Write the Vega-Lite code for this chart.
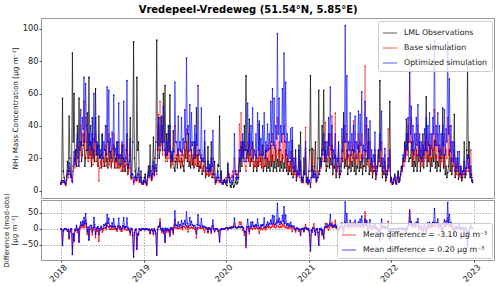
{
"$schema": "https://vega.github.io/schema/vega-lite/v6.json",
"padding": {"left": 1, "top": 4, "right": 0, "bottom": 0},
"title": {"text": "Vredepeel-Vredeweg (51.54°N, 5.85°E)", "fontSize": 10, "font": "DejaVu Sans", "fontWeight": "bold", "color": "#000", "offset": 3, "anchor": "middle"},
"config": {
  "font": "DejaVu Sans",
  "view": {"stroke": "#999", "strokeWidth": 1},
  "axis": {"labelFont": "DejaVu Sans", "labelFontSize": 8.2, "labelColor": "#222", "labelOverlap": false, "labelFlush": false, "titleFont": "DejaVu Sans", "titleFontSize": 7.3, "titleFontWeight": "normal", "titleColor": "#222", "tickColor": "#444", "tickSize": 2, "labelPadding": 1, "titlePadding": 3, "domain": false, "grid": false},
  "legend": {"labelFont": "DejaVu Sans", "labelFontSize": 7.8, "labelColor": "#222", "symbolType": "stroke", "symbolSize": 200, "symbolStrokeWidth": 1, "fillColor": "rgba(255,255,255,0.8)", "strokeColor": "#ccc", "cornerRadius": 2, "padding": 4, "rowPadding": 3, "labelOffset": 6, "labelLimit": 300, "title": null}
},
"spacing": 2,
"bounds": "flush",
"resolve": {"scale": {"color": "independent"}},
"datasets": {"d": [
{"t":2018.00,"o":5,"b":4,"p":4,"db":-1,"dp":-1},
{"t":2018.02,"o":57,"b":6,"p":6,"db":-51,"dp":-51},
{"t":2018.04,"o":8,"b":5,"p":6,"db":-3,"dp":-2},
{"t":2018.06,"o":4,"b":3,"p":4,"db":-1,"dp":0},
{"t":2018.08,"o":18,"b":10,"p":12,"db":-8,"dp":-6},
{"t":2018.10,"o":46,"b":14,"p":17,"db":-32,"dp":-29},
{"t":2018.12,"o":10,"b":8,"p":9,"db":-2,"dp":-1},
{"t":2018.14,"o":85,"b":6,"p":5,"db":-79,"dp":-80},
{"t":2018.16,"o":60,"b":20,"p":24,"db":-40,"dp":-36},
{"t":2018.18,"o":25,"b":18,"p":22,"db":-7,"dp":-3},
{"t":2018.20,"o":40,"b":28,"p":35,"db":-12,"dp":-5},
{"t":2018.22,"o":57,"b":18,"p":15,"db":-39,"dp":-42},
{"t":2018.24,"o":30,"b":40,"p":50,"db":10,"dp":20},
{"t":2018.26,"o":22,"b":35,"p":45,"db":13,"dp":23},
{"t":2018.28,"o":35,"b":55,"p":70,"db":20,"dp":35},
{"t":2018.30,"o":20,"b":45,"p":66,"db":25,"dp":46},
{"t":2018.32,"o":48,"b":30,"p":38,"db":-18,"dp":-10},
{"t":2018.34,"o":70,"b":35,"p":35,"db":-35,"dp":-35},
{"t":2018.36,"o":30,"b":28,"p":40,"db":-2,"dp":10},
{"t":2018.38,"o":45,"b":26,"p":35,"db":-19,"dp":-10},
{"t":2018.40,"o":25,"b":32,"p":60,"db":7,"dp":35},
{"t":2018.42,"o":63,"b":35,"p":45,"db":-28,"dp":-18},
{"t":2018.44,"o":28,"b":20,"p":30,"db":-8,"dp":2},
{"t":2018.46,"o":46,"b":6,"p":28,"db":-40,"dp":-18},
{"t":2018.48,"o":22,"b":18,"p":25,"db":-4,"dp":3},
{"t":2018.50,"o":35,"b":24,"p":34,"db":-11,"dp":-1},
{"t":2018.52,"o":18,"b":20,"p":30,"db":2,"dp":12},
{"t":2018.54,"o":25,"b":28,"p":40,"db":3,"dp":15},
{"t":2018.56,"o":20,"b":40,"p":64,"db":20,"dp":44},
{"t":2018.58,"o":30,"b":35,"p":62,"db":5,"dp":32},
{"t":2018.60,"o":24,"b":22,"p":32,"db":-2,"dp":8},
{"t":2018.62,"o":18,"b":25,"p":36,"db":7,"dp":18},
{"t":2018.64,"o":28,"b":35,"p":59,"db":7,"dp":31},
{"t":2018.66,"o":20,"b":18,"p":26,"db":-2,"dp":6},
{"t":2018.68,"o":30,"b":22,"p":30,"db":-8,"dp":0},
{"t":2018.70,"o":22,"b":30,"p":54,"db":8,"dp":32},
{"t":2018.72,"o":15,"b":16,"p":22,"db":1,"dp":7},
{"t":2018.74,"o":28,"b":20,"p":30,"db":-8,"dp":2},
{"t":2018.76,"o":20,"b":28,"p":55,"db":8,"dp":35},
{"t":2018.78,"o":12,"b":14,"p":18,"db":2,"dp":6},
{"t":2018.80,"o":35,"b":30,"p":68,"db":-5,"dp":33},
{"t":2018.82,"o":15,"b":12,"p":16,"db":-3,"dp":1},
{"t":2018.84,"o":45,"b":25,"p":32,"db":-20,"dp":-13},
{"t":2018.86,"o":10,"b":8,"p":10,"db":-2,"dp":0},
{"t":2018.88,"o":92,"b":4,"p":5,"db":-88,"dp":-87},
{"t":2018.90,"o":12,"b":8,"p":9,"db":-4,"dp":-3},
{"t":2018.92,"o":70,"b":6,"p":7,"db":-64,"dp":-63},
{"t":2018.94,"o":30,"b":10,"p":14,"db":-20,"dp":-16},
{"t":2018.96,"o":8,"b":5,"p":6,"db":-3,"dp":-2},
{"t":2018.98,"o":5,"b":4,"p":5,"db":-1,"dp":0},
{"t":2019.00,"o":6,"b":4,"p":5,"db":-2,"dp":-1},
{"t":2019.02,"o":10,"b":6,"p":8,"db":-4,"dp":-2},
{"t":2019.04,"o":4,"b":3,"p":4,"db":-1,"dp":0},
{"t":2019.06,"o":15,"b":10,"p":12,"db":-5,"dp":-3},
{"t":2019.08,"o":28,"b":12,"p":15,"db":-16,"dp":-13},
{"t":2019.10,"o":8,"b":6,"p":7,"db":-2,"dp":-1},
{"t":2019.12,"o":33,"b":14,"p":18,"db":-19,"dp":-15},
{"t":2019.14,"o":20,"b":12,"p":14,"db":-8,"dp":-6},
{"t":2019.16,"o":93,"b":10,"p":12,"db":-83,"dp":-81},
{"t":2019.18,"o":40,"b":47,"p":45,"db":7,"dp":5},
{"t":2019.20,"o":25,"b":55,"p":45,"db":30,"dp":20},
{"t":2019.22,"o":46,"b":35,"p":40,"db":-11,"dp":-6},
{"t":2019.24,"o":60,"b":45,"p":52,"db":-15,"dp":-8},
{"t":2019.26,"o":65,"b":22,"p":25,"db":-43,"dp":-40},
{"t":2019.28,"o":35,"b":25,"p":30,"db":-10,"dp":-5},
{"t":2019.30,"o":40,"b":30,"p":35,"db":-10,"dp":-5},
{"t":2019.32,"o":59,"b":35,"p":40,"db":-24,"dp":-19},
{"t":2019.34,"o":22,"b":18,"p":24,"db":-4,"dp":2},
{"t":2019.36,"o":37,"b":20,"p":25,"db":-17,"dp":-12},
{"t":2019.38,"o":12,"b":40,"p":67,"db":28,"dp":55},
{"t":2019.40,"o":20,"b":22,"p":30,"db":2,"dp":10},
{"t":2019.42,"o":25,"b":26,"p":46,"db":1,"dp":21},
{"t":2019.44,"o":18,"b":22,"p":30,"db":4,"dp":12},
{"t":2019.46,"o":20,"b":25,"p":45,"db":5,"dp":25},
{"t":2019.48,"o":15,"b":22,"p":32,"db":7,"dp":17},
{"t":2019.50,"o":25,"b":30,"p":50,"db":5,"dp":25},
{"t":2019.52,"o":30,"b":38,"p":82,"db":8,"dp":52},
{"t":2019.54,"o":35,"b":25,"p":40,"db":-10,"dp":5},
{"t":2019.56,"o":18,"b":22,"p":53,"db":4,"dp":35},
{"t":2019.58,"o":25,"b":30,"p":48,"db":5,"dp":23},
{"t":2019.60,"o":20,"b":22,"p":30,"db":2,"dp":10},
{"t":2019.62,"o":30,"b":28,"p":40,"db":-2,"dp":10},
{"t":2019.64,"o":51,"b":22,"p":35,"db":-29,"dp":-16},
{"t":2019.66,"o":22,"b":25,"p":65,"db":3,"dp":43},
{"t":2019.68,"o":15,"b":18,"p":25,"db":3,"dp":10},
{"t":2019.70,"o":20,"b":22,"p":51,"db":2,"dp":31},
{"t":2019.72,"o":12,"b":14,"p":20,"db":2,"dp":8},
{"t":2019.74,"o":30,"b":18,"p":37,"db":-12,"dp":7},
{"t":2019.76,"o":10,"b":10,"p":14,"db":0,"dp":4},
{"t":2019.78,"o":27,"b":14,"p":18,"db":-13,"dp":-9},
{"t":2019.80,"o":14,"b":12,"p":16,"db":-2,"dp":2},
{"t":2019.82,"o":30,"b":15,"p":20,"db":-15,"dp":-10},
{"t":2019.84,"o":10,"b":20,"p":37,"db":10,"dp":27},
{"t":2019.86,"o":18,"b":8,"p":10,"db":-10,"dp":-8},
{"t":2019.88,"o":6,"b":5,"p":6,"db":-1,"dp":0},
{"t":2019.90,"o":16,"b":8,"p":12,"db":-8,"dp":-4},
{"t":2019.92,"o":46,"b":5,"p":6,"db":-41,"dp":-40},
{"t":2019.94,"o":12,"b":8,"p":10,"db":-4,"dp":-2},
{"t":2019.96,"o":4,"b":4,"p":4,"db":0,"dp":0},
{"t":2019.98,"o":7,"b":6,"p":6,"db":-1,"dp":-1},
{"t":2020.00,"o":4,"b":8,"p":6,"db":4,"dp":2},
{"t":2020.02,"o":16,"b":12,"p":17,"db":-4,"dp":1},
{"t":2020.04,"o":6,"b":10,"p":8,"db":4,"dp":2},
{"t":2020.06,"o":2,"b":8,"p":5,"db":6,"dp":3},
{"t":2020.08,"o":5,"b":12,"p":9,"db":7,"dp":4},
{"t":2020.10,"o":3,"b":20,"p":35,"db":17,"dp":32},
{"t":2020.12,"o":8,"b":12,"p":10,"db":4,"dp":2},
{"t":2020.14,"o":5,"b":10,"p":8,"db":5,"dp":3},
{"t":2020.16,"o":20,"b":41,"p":25,"db":21,"dp":5},
{"t":2020.18,"o":27,"b":48,"p":30,"db":21,"dp":3},
{"t":2020.20,"o":30,"b":25,"p":35,"db":-5,"dp":5},
{"t":2020.22,"o":40,"b":20,"p":30,"db":-20,"dp":-10},
{"t":2020.24,"o":71,"b":12,"p":18,"db":-59,"dp":-53},
{"t":2020.26,"o":25,"b":30,"p":54,"db":5,"dp":29},
{"t":2020.28,"o":44,"b":28,"p":35,"db":-16,"dp":-9},
{"t":2020.30,"o":20,"b":25,"p":40,"db":5,"dp":20},
{"t":2020.32,"o":30,"b":28,"p":51,"db":-2,"dp":21},
{"t":2020.34,"o":15,"b":18,"p":25,"db":3,"dp":10},
{"t":2020.36,"o":22,"b":24,"p":35,"db":2,"dp":13},
{"t":2020.38,"o":18,"b":20,"p":48,"db":2,"dp":30},
{"t":2020.40,"o":41,"b":26,"p":43,"db":-15,"dp":2},
{"t":2020.42,"o":20,"b":22,"p":32,"db":2,"dp":12},
{"t":2020.44,"o":28,"b":25,"p":40,"db":-3,"dp":12},
{"t":2020.46,"o":15,"b":20,"p":48,"db":5,"dp":33},
{"t":2020.48,"o":25,"b":22,"p":30,"db":-3,"dp":5},
{"t":2020.50,"o":20,"b":28,"p":41,"db":8,"dp":21},
{"t":2020.52,"o":18,"b":26,"p":35,"db":8,"dp":17},
{"t":2020.54,"o":28,"b":30,"p":55,"db":2,"dp":27},
{"t":2020.56,"o":22,"b":35,"p":63,"db":13,"dp":41},
{"t":2020.58,"o":18,"b":30,"p":57,"db":12,"dp":39},
{"t":2020.60,"o":25,"b":28,"p":40,"db":3,"dp":15},
{"t":2020.62,"o":19,"b":45,"p":97,"db":26,"dp":78},
{"t":2020.64,"o":25,"b":30,"p":57,"db":5,"dp":32},
{"t":2020.66,"o":18,"b":25,"p":40,"db":7,"dp":22},
{"t":2020.68,"o":22,"b":35,"p":63,"db":13,"dp":41},
{"t":2020.70,"o":17,"b":40,"p":85,"db":23,"dp":68},
{"t":2020.72,"o":25,"b":30,"p":67,"db":5,"dp":42},
{"t":2020.74,"o":20,"b":22,"p":35,"db":2,"dp":15},
{"t":2020.76,"o":15,"b":18,"p":30,"db":3,"dp":15},
{"t":2020.78,"o":18,"b":24,"p":38,"db":6,"dp":20},
{"t":2020.80,"o":31,"b":22,"p":39,"db":-9,"dp":8},
{"t":2020.82,"o":12,"b":14,"p":20,"db":2,"dp":8},
{"t":2020.84,"o":25,"b":15,"p":20,"db":-10,"dp":-5},
{"t":2020.86,"o":10,"b":10,"p":12,"db":0,"dp":2},
{"t":2020.88,"o":28,"b":20,"p":25,"db":-8,"dp":-3},
{"t":2020.90,"o":36,"b":15,"p":18,"db":-21,"dp":-18},
{"t":2020.92,"o":8,"b":6,"p":8,"db":-2,"dp":0},
{"t":2020.94,"o":20,"b":10,"p":12,"db":-10,"dp":-8},
{"t":2020.96,"o":26,"b":39,"p":30,"db":13,"dp":4},
{"t":2020.98,"o":8,"b":5,"p":7,"db":-3,"dp":-1},
{"t":2021.00,"o":12,"b":6,"p":7,"db":-6,"dp":-5},
{"t":2021.02,"o":71,"b":3,"p":2,"db":-68,"dp":-69},
{"t":2021.04,"o":26,"b":20,"p":15,"db":-6,"dp":-11},
{"t":2021.06,"o":10,"b":25,"p":12,"db":15,"dp":2},
{"t":2021.08,"o":30,"b":12,"p":10,"db":-18,"dp":-20},
{"t":2021.10,"o":8,"b":6,"p":8,"db":-2,"dp":0},
{"t":2021.12,"o":62,"b":12,"p":10,"db":-50,"dp":-52},
{"t":2021.14,"o":20,"b":15,"p":18,"db":-5,"dp":-2},
{"t":2021.16,"o":40,"b":20,"p":25,"db":-20,"dp":-15},
{"t":2021.18,"o":62,"b":30,"p":35,"db":-32,"dp":-27},
{"t":2021.20,"o":25,"b":42,"p":30,"db":17,"dp":5},
{"t":2021.22,"o":15,"b":20,"p":30,"db":5,"dp":15},
{"t":2021.24,"o":35,"b":30,"p":45,"db":-5,"dp":10},
{"t":2021.26,"o":20,"b":35,"p":64,"db":15,"dp":44},
{"t":2021.28,"o":28,"b":46,"p":40,"db":18,"dp":12},
{"t":2021.30,"o":15,"b":20,"p":25,"db":5,"dp":10},
{"t":2021.32,"o":22,"b":48,"p":35,"db":26,"dp":13},
{"t":2021.34,"o":12,"b":15,"p":20,"db":3,"dp":8},
{"t":2021.36,"o":30,"b":20,"p":28,"db":-10,"dp":-2},
{"t":2021.38,"o":10,"b":12,"p":15,"db":2,"dp":5},
{"t":2021.40,"o":20,"b":25,"p":38,"db":5,"dp":18},
{"t":2021.42,"o":48,"b":30,"p":40,"db":-18,"dp":-8},
{"t":2021.44,"o":19,"b":40,"p":102,"db":21,"dp":83},
{"t":2021.46,"o":25,"b":35,"p":71,"db":10,"dp":46},
{"t":2021.48,"o":15,"b":22,"p":30,"db":7,"dp":15},
{"t":2021.50,"o":22,"b":30,"p":48,"db":8,"dp":26},
{"t":2021.52,"o":18,"b":25,"p":35,"db":7,"dp":17},
{"t":2021.54,"o":25,"b":43,"p":40,"db":18,"dp":15},
{"t":2021.56,"o":20,"b":30,"p":46,"db":10,"dp":26},
{"t":2021.58,"o":15,"b":22,"p":30,"db":7,"dp":15},
{"t":2021.60,"o":28,"b":35,"p":49,"db":7,"dp":21},
{"t":2021.62,"o":18,"b":30,"p":47,"db":12,"dp":29},
{"t":2021.64,"o":22,"b":35,"p":61,"db":13,"dp":39},
{"t":2021.66,"o":15,"b":20,"p":28,"db":5,"dp":13},
{"t":2021.68,"o":25,"b":77,"p":55,"db":52,"dp":30},
{"t":2021.70,"o":20,"b":40,"p":45,"db":20,"dp":25},
{"t":2021.72,"o":38,"b":25,"p":30,"db":-13,"dp":-8},
{"t":2021.74,"o":15,"b":30,"p":43,"db":15,"dp":28},
{"t":2021.76,"o":20,"b":18,"p":25,"db":-2,"dp":5},
{"t":2021.78,"o":12,"b":15,"p":22,"db":3,"dp":10},
{"t":2021.80,"o":22,"b":25,"p":36,"db":3,"dp":14},
{"t":2021.82,"o":10,"b":12,"p":15,"db":2,"dp":5},
{"t":2021.84,"o":25,"b":18,"p":22,"db":-7,"dp":-3},
{"t":2021.86,"o":68,"b":30,"p":35,"db":-38,"dp":-33},
{"t":2021.88,"o":20,"b":30,"p":49,"db":10,"dp":29},
{"t":2021.90,"o":12,"b":15,"p":20,"db":3,"dp":8},
{"t":2021.92,"o":18,"b":22,"p":26,"db":4,"dp":8},
{"t":2021.94,"o":8,"b":10,"p":12,"db":2,"dp":4},
{"t":2021.96,"o":15,"b":38,"p":20,"db":23,"dp":5},
{"t":2021.98,"o":55,"b":20,"p":25,"db":-35,"dp":-30},
{"t":2022.00,"o":8,"b":6,"p":7,"db":-2,"dp":-1},
{"t":2022.02,"o":5,"b":4,"p":5,"db":-1,"dp":0},
{"t":2022.04,"o":10,"b":8,"p":9,"db":-2,"dp":-1},
{"t":2022.06,"o":4,"b":4,"p":4,"db":0,"dp":0},
{"t":2022.08,"o":12,"b":10,"p":11,"db":-2,"dp":-1},
{"t":2022.10,"o":6,"b":8,"p":7,"db":2,"dp":1},
{"t":2022.12,"o":15,"b":12,"p":14,"db":-3,"dp":-1},
{"t":2022.14,"o":20,"b":18,"p":22,"db":-2,"dp":2},
{"t":2022.16,"o":30,"b":25,"p":28,"db":-5,"dp":-2},
{"t":2022.18,"o":44,"b":30,"p":35,"db":-14,"dp":-9},
{"t":2022.20,"o":35,"b":40,"p":45,"db":5,"dp":10},
{"t":2022.22,"o":20,"b":79,"p":73,"db":59,"dp":53},
{"t":2022.24,"o":30,"b":45,"p":52,"db":15,"dp":22},
{"t":2022.26,"o":25,"b":30,"p":40,"db":5,"dp":15},
{"t":2022.28,"o":18,"b":25,"p":35,"db":7,"dp":17},
{"t":2022.30,"o":25,"b":35,"p":45,"db":10,"dp":20},
{"t":2022.32,"o":22,"b":40,"p":53,"db":18,"dp":31},
{"t":2022.34,"o":30,"b":28,"p":35,"db":-2,"dp":5},
{"t":2022.36,"o":20,"b":25,"p":30,"db":5,"dp":10},
{"t":2022.38,"o":35,"b":22,"p":28,"db":-13,"dp":-7},
{"t":2022.40,"o":25,"b":30,"p":38,"db":5,"dp":13},
{"t":2022.42,"o":58,"b":35,"p":45,"db":-23,"dp":-13},
{"t":2022.44,"o":22,"b":30,"p":40,"db":8,"dp":18},
{"t":2022.46,"o":28,"b":35,"p":48,"db":7,"dp":20},
{"t":2022.48,"o":20,"b":28,"p":35,"db":8,"dp":15},
{"t":2022.50,"o":25,"b":35,"p":45,"db":10,"dp":20},
{"t":2022.52,"o":31,"b":50,"p":93,"db":19,"dp":62},
{"t":2022.54,"o":22,"b":30,"p":40,"db":8,"dp":18},
{"t":2022.56,"o":18,"b":35,"p":48,"db":17,"dp":30},
{"t":2022.58,"o":25,"b":28,"p":40,"db":3,"dp":15},
{"t":2022.60,"o":20,"b":25,"p":35,"db":5,"dp":15},
{"t":2022.62,"o":51,"b":30,"p":40,"db":-21,"dp":-11},
{"t":2022.64,"o":22,"b":35,"p":50,"db":13,"dp":28},
{"t":2022.66,"o":15,"b":25,"p":38,"db":10,"dp":23},
{"t":2022.68,"o":11,"b":45,"p":92,"db":34,"dp":81},
{"t":2022.70,"o":25,"b":40,"p":69,"db":15,"dp":44},
{"t":2022.72,"o":20,"b":30,"p":40,"db":10,"dp":20},
{"t":2022.74,"o":15,"b":20,"p":30,"db":5,"dp":15},
{"t":2022.76,"o":47,"b":25,"p":30,"db":-22,"dp":-17},
{"t":2022.78,"o":12,"b":15,"p":20,"db":3,"dp":8},
{"t":2022.80,"o":20,"b":18,"p":24,"db":-2,"dp":4},
{"t":2022.82,"o":10,"b":15,"p":24,"db":5,"dp":14},
{"t":2022.84,"o":15,"b":12,"p":14,"db":-3,"dp":-1},
{"t":2022.86,"o":8,"b":10,"p":12,"db":2,"dp":4},
{"t":2022.88,"o":30,"b":15,"p":18,"db":-15,"dp":-12},
{"t":2022.90,"o":10,"b":12,"p":14,"db":2,"dp":4},
{"t":2022.92,"o":77,"b":20,"p":22,"db":-57,"dp":-55},
{"t":2022.94,"o":30,"b":18,"p":20,"db":-12,"dp":-10},
{"t":2022.96,"o":10,"b":25,"p":15,"db":15,"dp":5},
{"t":2022.98,"o":5,"b":6,"p":6,"db":1,"dp":1},
{"t":2018.01,"o":6,"b":4,"p":5,"db":-2,"dp":-1},
{"t":2018.03,"o":12,"b":5,"p":6,"db":-7,"dp":-6},
{"t":2018.05,"o":5,"b":4,"p":5,"db":-1,"dp":0},
{"t":2018.07,"o":9,"b":6,"p":7,"db":-3,"dp":-2},
{"t":2018.09,"o":12,"b":8,"p":10,"db":-4,"dp":-2},
{"t":2018.11,"o":20,"b":10,"p":12,"db":-10,"dp":-8},
{"t":2018.13,"o":8,"b":6,"p":8,"db":-2,"dp":0},
{"t":2018.15,"o":30,"b":12,"p":15,"db":-18,"dp":-15},
{"t":2018.17,"o":18,"b":14,"p":16,"db":-4,"dp":-2},
{"t":2018.19,"o":15,"b":20,"p":25,"db":5,"dp":10},
{"t":2018.21,"o":20,"b":15,"p":20,"db":-5,"dp":0},
{"t":2018.23,"o":25,"b":25,"p":30,"db":0,"dp":5},
{"t":2018.25,"o":18,"b":22,"p":28,"db":4,"dp":10},
{"t":2018.27,"o":28,"b":30,"p":38,"db":2,"dp":10},
{"t":2018.29,"o":15,"b":20,"p":30,"db":5,"dp":15},
{"t":2018.31,"o":25,"b":30,"p":40,"db":5,"dp":15},
{"t":2018.33,"o":20,"b":18,"p":25,"db":-2,"dp":5},
{"t":2018.35,"o":22,"b":20,"p":28,"db":-2,"dp":6},
{"t":2018.37,"o":15,"b":18,"p":25,"db":3,"dp":10},
{"t":2018.39,"o":20,"b":16,"p":22,"db":-4,"dp":2},
{"t":2018.41,"o":18,"b":22,"p":30,"db":4,"dp":12},
{"t":2018.43,"o":22,"b":18,"p":24,"db":-4,"dp":2},
{"t":2018.45,"o":15,"b":16,"p":22,"db":1,"dp":7},
{"t":2018.47,"o":20,"b":14,"p":20,"db":-6,"dp":0},
{"t":2018.49,"o":14,"b":16,"p":22,"db":2,"dp":8},
{"t":2018.51,"o":20,"b":15,"p":20,"db":-5,"dp":0},
{"t":2018.53,"o":15,"b":18,"p":25,"db":3,"dp":10},
{"t":2018.55,"o":18,"b":15,"p":22,"db":-3,"dp":4},
{"t":2018.57,"o":14,"b":22,"p":30,"db":8,"dp":16},
{"t":2018.59,"o":18,"b":16,"p":24,"db":-2,"dp":6},
{"t":2018.61,"o":15,"b":14,"p":20,"db":-1,"dp":5},
{"t":2018.63,"o":20,"b":18,"p":26,"db":-2,"dp":6},
{"t":2018.65,"o":14,"b":15,"p":22,"db":1,"dp":8},
{"t":2018.67,"o":18,"b":14,"p":18,"db":-4,"dp":0},
{"t":2018.69,"o":14,"b":16,"p":22,"db":2,"dp":8},
{"t":2018.71,"o":16,"b":14,"p":20,"db":-2,"dp":4},
{"t":2018.73,"o":20,"b":12,"p":16,"db":-8,"dp":-4},
{"t":2018.75,"o":12,"b":14,"p":20,"db":2,"dp":8},
{"t":2018.77,"o":15,"b":12,"p":18,"db":-3,"dp":3},
{"t":2018.79,"o":20,"b":16,"p":25,"db":-4,"dp":5},
{"t":2018.81,"o":10,"b":10,"p":14,"db":0,"dp":4},
{"t":2018.83,"o":22,"b":14,"p":18,"db":-8,"dp":-4},
{"t":2018.85,"o":8,"b":7,"p":9,"db":-1,"dp":1},
{"t":2018.87,"o":30,"b":8,"p":10,"db":-22,"dp":-20},
{"t":2018.89,"o":20,"b":6,"p":8,"db":-14,"dp":-12},
{"t":2018.91,"o":8,"b":6,"p":7,"db":-2,"dp":-1},
{"t":2018.93,"o":25,"b":8,"p":10,"db":-17,"dp":-15},
{"t":2018.95,"o":6,"b":5,"p":6,"db":-1,"dp":0},
{"t":2018.97,"o":12,"b":6,"p":8,"db":-6,"dp":-4},
{"t":2018.99,"o":4,"b":4,"p":4,"db":0,"dp":0},
{"t":2019.01,"o":8,"b":5,"p":6,"db":-3,"dp":-2},
{"t":2019.03,"o":5,"b":4,"p":5,"db":-1,"dp":0},
{"t":2019.05,"o":9,"b":6,"p":8,"db":-3,"dp":-1},
{"t":2019.07,"o":10,"b":8,"p":9,"db":-2,"dp":-1},
{"t":2019.09,"o":12,"b":7,"p":9,"db":-5,"dp":-3},
{"t":2019.11,"o":15,"b":8,"p":10,"db":-7,"dp":-5},
{"t":2019.13,"o":10,"b":9,"p":10,"db":-1,"dp":0},
{"t":2019.15,"o":30,"b":14,"p":16,"db":-16,"dp":-14},
{"t":2019.17,"o":25,"b":20,"p":22,"db":-5,"dp":-3},
{"t":2019.19,"o":20,"b":25,"p":28,"db":5,"dp":8},
{"t":2019.21,"o":30,"b":28,"p":30,"db":-2,"dp":0},
{"t":2019.23,"o":25,"b":22,"p":26,"db":-3,"dp":1},
{"t":2019.25,"o":30,"b":25,"p":30,"db":-5,"dp":0},
{"t":2019.27,"o":20,"b":18,"p":22,"db":-2,"dp":2},
{"t":2019.29,"o":22,"b":18,"p":22,"db":-4,"dp":0},
{"t":2019.31,"o":25,"b":20,"p":24,"db":-5,"dp":-1},
{"t":2019.33,"o":15,"b":14,"p":18,"db":-1,"dp":3},
{"t":2019.35,"o":18,"b":16,"p":20,"db":-2,"dp":2},
{"t":2019.37,"o":14,"b":18,"p":24,"db":4,"dp":10},
{"t":2019.39,"o":18,"b":20,"p":30,"db":2,"dp":12},
{"t":2019.41,"o":14,"b":16,"p":22,"db":2,"dp":8},
{"t":2019.43,"o":18,"b":18,"p":25,"db":0,"dp":7},
{"t":2019.45,"o":14,"b":16,"p":24,"db":2,"dp":10},
{"t":2019.47,"o":18,"b":15,"p":22,"db":-3,"dp":4},
{"t":2019.49,"o":12,"b":18,"p":26,"db":6,"dp":14},
{"t":2019.51,"o":20,"b":20,"p":30,"db":0,"dp":10},
{"t":2019.53,"o":18,"b":22,"p":35,"db":4,"dp":17},
{"t":2019.55,"o":15,"b":18,"p":24,"db":3,"dp":9},
{"t":2019.57,"o":14,"b":16,"p":25,"db":2,"dp":11},
{"t":2019.59,"o":16,"b":18,"p":28,"db":2,"dp":12},
{"t":2019.61,"o":14,"b":15,"p":20,"db":1,"dp":6},
{"t":2019.63,"o":20,"b":16,"p":22,"db":-4,"dp":2},
{"t":2019.65,"o":15,"b":16,"p":28,"db":1,"dp":13},
{"t":2019.67,"o":12,"b":14,"p":22,"db":2,"dp":10},
{"t":2019.69,"o":14,"b":15,"p":20,"db":1,"dp":6},
{"t":2019.71,"o":10,"b":12,"p":18,"db":2,"dp":8},
{"t":2019.73,"o":15,"b":12,"p":18,"db":-3,"dp":3},
{"t":2019.75,"o":8,"b":9,"p":12,"db":1,"dp":4},
{"t":2019.77,"o":12,"b":10,"p":14,"db":-2,"dp":2},
{"t":2019.79,"o":9,"b":9,"p":12,"db":0,"dp":3},
{"t":2019.81,"o":12,"b":10,"p":12,"db":-2,"dp":0},
{"t":2019.83,"o":8,"b":10,"p":15,"db":2,"dp":7},
{"t":2019.85,"o":10,"b":8,"p":10,"db":-2,"dp":0},
{"t":2019.87,"o":5,"b":4,"p":5,"db":-1,"dp":0},
{"t":2019.89,"o":8,"b":6,"p":8,"db":-2,"dp":0},
{"t":2019.91,"o":15,"b":6,"p":8,"db":-9,"dp":-7},
{"t":2019.93,"o":8,"b":5,"p":6,"db":-3,"dp":-2},
{"t":2019.95,"o":5,"b":4,"p":5,"db":-1,"dp":0},
{"t":2019.97,"o":6,"b":5,"p":5,"db":-1,"dp":-1},
{"t":2019.99,"o":5,"b":6,"p":5,"db":1,"dp":0},
{"t":2020.01,"o":3,"b":6,"p":5,"db":3,"dp":2},
{"t":2020.03,"o":8,"b":10,"p":9,"db":2,"dp":1},
{"t":2020.05,"o":3,"b":7,"p":5,"db":4,"dp":2},
{"t":2020.07,"o":4,"b":9,"p":6,"db":5,"dp":2},
{"t":2020.09,"o":2,"b":8,"p":6,"db":6,"dp":4},
{"t":2020.11,"o":5,"b":10,"p":12,"db":5,"dp":7},
{"t":2020.13,"o":4,"b":8,"p":7,"db":4,"dp":3},
{"t":2020.15,"o":8,"b":15,"p":12,"db":7,"dp":4},
{"t":2020.17,"o":12,"b":25,"p":18,"db":13,"dp":6},
{"t":2020.19,"o":15,"b":22,"p":20,"db":7,"dp":5},
{"t":2020.21,"o":20,"b":18,"p":22,"db":-2,"dp":2},
{"t":2020.23,"o":25,"b":15,"p":18,"db":-10,"dp":-7},
{"t":2020.25,"o":20,"b":20,"p":25,"db":0,"dp":5},
{"t":2020.27,"o":18,"b":18,"p":24,"db":0,"dp":6},
{"t":2020.29,"o":15,"b":16,"p":22,"db":1,"dp":7},
{"t":2020.31,"o":18,"b":18,"p":26,"db":0,"dp":8},
{"t":2020.33,"o":12,"b":14,"p":20,"db":2,"dp":8},
{"t":2020.35,"o":15,"b":15,"p":22,"db":0,"dp":7},
{"t":2020.37,"o":12,"b":14,"p":20,"db":2,"dp":8},
{"t":2020.39,"o":15,"b":16,"p":25,"db":1,"dp":10},
{"t":2020.41,"o":18,"b":16,"p":22,"db":-2,"dp":4},
{"t":2020.43,"o":14,"b":15,"p":22,"db":1,"dp":8},
{"t":2020.45,"o":12,"b":14,"p":22,"db":2,"dp":10},
{"t":2020.47,"o":15,"b":15,"p":20,"db":0,"dp":5},
{"t":2020.49,"o":12,"b":16,"p":24,"db":4,"dp":12},
{"t":2020.51,"o":14,"b":18,"p":25,"db":4,"dp":11},
{"t":2020.53,"o":12,"b":16,"p":26,"db":4,"dp":14},
{"t":2020.55,"o":15,"b":20,"p":30,"db":5,"dp":15},
{"t":2020.57,"o":12,"b":18,"p":28,"db":6,"dp":16},
{"t":2020.59,"o":14,"b":18,"p":26,"db":4,"dp":12},
{"t":2020.61,"o":12,"b":20,"p":32,"db":8,"dp":20},
{"t":2020.63,"o":15,"b":22,"p":35,"db":7,"dp":20},
{"t":2020.65,"o":12,"b":16,"p":25,"db":4,"dp":13},
{"t":2020.67,"o":14,"b":18,"p":30,"db":4,"dp":16},
{"t":2020.69,"o":12,"b":20,"p":35,"db":8,"dp":23},
{"t":2020.71,"o":14,"b":18,"p":30,"db":4,"dp":16},
{"t":2020.73,"o":12,"b":15,"p":22,"db":3,"dp":10},
{"t":2020.75,"o":10,"b":12,"p":18,"db":2,"dp":8},
{"t":2020.77,"o":12,"b":14,"p":20,"db":2,"dp":8},
{"t":2020.79,"o":10,"b":12,"p":18,"db":2,"dp":8},
{"t":2020.81,"o":8,"b":10,"p":14,"db":2,"dp":6},
{"t":2020.83,"o":12,"b":10,"p":12,"db":-2,"dp":0},
{"t":2020.85,"o":6,"b":7,"p":8,"db":1,"dp":2},
{"t":2020.87,"o":10,"b":9,"p":10,"db":-1,"dp":0},
{"t":2020.89,"o":12,"b":8,"p":10,"db":-4,"dp":-2},
{"t":2020.91,"o":6,"b":5,"p":6,"db":-1,"dp":0},
{"t":2020.93,"o":5,"b":5,"p":6,"db":0,"dp":1},
{"t":2020.95,"o":10,"b":12,"p":10,"db":2,"dp":0},
{"t":2020.97,"o":5,"b":6,"p":6,"db":1,"dp":1},
{"t":2020.99,"o":4,"b":4,"p":5,"db":0,"dp":1},
{"t":2021.01,"o":25,"b":5,"p":6,"db":-20,"dp":-19},
{"t":2021.03,"o":12,"b":8,"p":8,"db":-4,"dp":-4},
{"t":2021.05,"o":8,"b":12,"p":9,"db":4,"dp":1},
{"t":2021.07,"o":15,"b":10,"p":8,"db":-5,"dp":-7},
{"t":2021.09,"o":6,"b":5,"p":6,"db":-1,"dp":0},
{"t":2021.11,"o":20,"b":8,"p":8,"db":-12,"dp":-12},
{"t":2021.13,"o":12,"b":10,"p":12,"db":-2,"dp":0},
{"t":2021.15,"o":15,"b":14,"p":16,"db":-1,"dp":1},
{"t":2021.17,"o":25,"b":18,"p":22,"db":-7,"dp":-3},
{"t":2021.19,"o":18,"b":22,"p":20,"db":4,"dp":2},
{"t":2021.21,"o":12,"b":15,"p":18,"db":3,"dp":6},
{"t":2021.23,"o":15,"b":18,"p":22,"db":3,"dp":7},
{"t":2021.25,"o":14,"b":20,"p":28,"db":6,"dp":14},
{"t":2021.27,"o":16,"b":22,"p":25,"db":6,"dp":9},
{"t":2021.29,"o":10,"b":14,"p":16,"db":4,"dp":6},
{"t":2021.31,"o":14,"b":20,"p":20,"db":6,"dp":6},
{"t":2021.33,"o":8,"b":10,"p":12,"db":2,"dp":4},
{"t":2021.35,"o":15,"b":14,"p":18,"db":-1,"dp":3},
{"t":2021.37,"o":8,"b":9,"p":10,"db":1,"dp":2},
{"t":2021.39,"o":12,"b":15,"p":20,"db":3,"dp":8},
{"t":2021.41,"o":18,"b":18,"p":24,"db":0,"dp":6},
{"t":2021.43,"o":14,"b":20,"p":30,"db":6,"dp":16},
{"t":2021.45,"o":15,"b":20,"p":30,"db":5,"dp":15},
{"t":2021.47,"o":10,"b":15,"p":20,"db":5,"dp":10},
{"t":2021.49,"o":14,"b":18,"p":25,"db":4,"dp":11},
{"t":2021.51,"o":12,"b":16,"p":22,"db":4,"dp":10},
{"t":2021.53,"o":15,"b":20,"p":25,"db":5,"dp":10},
{"t":2021.55,"o":12,"b":18,"p":24,"db":6,"dp":12},
{"t":2021.57,"o":10,"b":15,"p":20,"db":5,"dp":10},
{"t":2021.59,"o":14,"b":20,"p":26,"db":6,"dp":12},
{"t":2021.61,"o":12,"b":18,"p":24,"db":6,"dp":12},
{"t":2021.63,"o":14,"b":20,"p":28,"db":6,"dp":14},
{"t":2021.65,"o":10,"b":14,"p":18,"db":4,"dp":8},
{"t":2021.67,"o":15,"b":25,"p":25,"db":10,"dp":10},
{"t":2021.69,"o":12,"b":22,"p":24,"db":10,"dp":12},
{"t":2021.71,"o":18,"b":16,"p":20,"db":-2,"dp":2},
{"t":2021.73,"o":10,"b":15,"p":20,"db":5,"dp":10},
{"t":2021.75,"o":12,"b":12,"p":16,"db":0,"dp":4},
{"t":2021.77,"o":8,"b":10,"p":14,"db":2,"dp":6},
{"t":2021.79,"o":12,"b":14,"p":18,"db":2,"dp":6},
{"t":2021.81,"o":7,"b":8,"p":10,"db":1,"dp":3},
{"t":2021.83,"o":14,"b":12,"p":14,"db":-2,"dp":0},
{"t":2021.85,"o":20,"b":15,"p":18,"db":-5,"dp":-2},
{"t":2021.87,"o":15,"b":18,"p":25,"db":3,"dp":10},
{"t":2021.89,"o":8,"b":10,"p":12,"db":2,"dp":4},
{"t":2021.91,"o":10,"b":12,"p":14,"db":2,"dp":4},
{"t":2021.93,"o":6,"b":7,"p":8,"db":1,"dp":2},
{"t":2021.95,"o":10,"b":15,"p":12,"db":5,"dp":2},
{"t":2021.97,"o":20,"b":12,"p":14,"db":-8,"dp":-6},
{"t":2021.99,"o":6,"b":5,"p":6,"db":-1,"dp":0},
{"t":2022.01,"o":4,"b":4,"p":4,"db":0,"dp":0},
{"t":2022.03,"o":7,"b":6,"p":7,"db":-1,"dp":0},
{"t":2022.05,"o":5,"b":5,"p":5,"db":0,"dp":0},
{"t":2022.07,"o":8,"b":7,"p":8,"db":-1,"dp":0},
{"t":2022.09,"o":5,"b":6,"p":6,"db":1,"dp":1},
{"t":2022.11,"o":10,"b":9,"p":10,"db":-1,"dp":0},
{"t":2022.13,"o":12,"b":12,"p":14,"db":0,"dp":2},
{"t":2022.15,"o":18,"b":15,"p":18,"db":-3,"dp":0},
{"t":2022.17,"o":20,"b":18,"p":22,"db":-2,"dp":2},
{"t":2022.19,"o":25,"b":22,"p":26,"db":-3,"dp":1},
{"t":2022.21,"o":18,"b":30,"p":30,"db":12,"dp":12},
{"t":2022.23,"o":20,"b":30,"p":35,"db":10,"dp":15},
{"t":2022.25,"o":15,"b":20,"p":25,"db":5,"dp":10},
{"t":2022.27,"o":12,"b":16,"p":22,"db":4,"dp":10},
{"t":2022.29,"o":15,"b":20,"p":26,"db":5,"dp":11},
{"t":2022.31,"o":12,"b":22,"p":28,"db":10,"dp":16},
{"t":2022.33,"o":18,"b":18,"p":22,"db":0,"dp":4},
{"t":2022.35,"o":12,"b":15,"p":20,"db":3,"dp":8},
{"t":2022.37,"o":20,"b":15,"p":18,"db":-5,"dp":-2},
{"t":2022.39,"o":14,"b":18,"p":22,"db":4,"dp":8},
{"t":2022.41,"o":25,"b":20,"p":25,"db":-5,"dp":0},
{"t":2022.43,"o":15,"b":18,"p":24,"db":3,"dp":9},
{"t":2022.45,"o":18,"b":20,"p":28,"db":2,"dp":10},
{"t":2022.47,"o":12,"b":16,"p":22,"db":4,"dp":10},
{"t":2022.49,"o":15,"b":20,"p":26,"db":5,"dp":11},
{"t":2022.51,"o":18,"b":25,"p":35,"db":7,"dp":17},
{"t":2022.53,"o":14,"b":20,"p":28,"db":6,"dp":14},
{"t":2022.55,"o":12,"b":20,"p":28,"db":8,"dp":16},
{"t":2022.57,"o":15,"b":18,"p":24,"db":3,"dp":9},
{"t":2022.59,"o":12,"b":15,"p":20,"db":3,"dp":8},
{"t":2022.61,"o":20,"b":18,"p":22,"db":-2,"dp":2},
{"t":2022.63,"o":14,"b":20,"p":28,"db":6,"dp":14},
{"t":2022.65,"o":10,"b":15,"p":22,"db":5,"dp":12},
{"t":2022.67,"o":8,"b":20,"p":30,"db":12,"dp":22},
{"t":2022.69,"o":15,"b":22,"p":35,"db":7,"dp":20},
{"t":2022.71,"o":12,"b":18,"p":24,"db":6,"dp":12},
{"t":2022.73,"o":10,"b":12,"p":18,"db":2,"dp":8},
{"t":2022.75,"o":18,"b":15,"p":18,"db":-3,"dp":0},
{"t":2022.77,"o":8,"b":10,"p":12,"db":2,"dp":4},
{"t":2022.79,"o":12,"b":10,"p":14,"db":-2,"dp":2},
{"t":2022.81,"o":7,"b":9,"p":12,"db":2,"dp":5},
{"t":2022.83,"o":10,"b":8,"p":10,"db":-2,"dp":0},
{"t":2022.85,"o":6,"b":7,"p":8,"db":1,"dp":2},
{"t":2022.87,"o":12,"b":10,"p":12,"db":-2,"dp":0},
{"t":2022.89,"o":8,"b":9,"p":10,"db":1,"dp":2},
{"t":2022.91,"o":25,"b":12,"p":14,"db":-13,"dp":-11},
{"t":2022.93,"o":20,"b":12,"p":14,"db":-8,"dp":-6},
{"t":2022.95,"o":8,"b":12,"p":10,"db":4,"dp":2},
{"t":2022.97,"o":6,"b":10,"p":8,"db":4,"dp":2}
]},
"data": {"name": "d"},
"vconcat": [
{
  "width": 453, "height": 180,
  "encoding": {
    "x": {"field": "t", "type": "quantitative", "scale": {"domain": [2017.76, 2023.24], "nice": false, "zero": false}, "axis": null}
  },
  "layer": [
    {"mark": {"type": "line", "strokeWidth": 1, "opacity": 0.65, "point": {"filled": true, "size": 2.5}},
     "encoding": {
       "y": {"field": "o", "type": "quantitative", "scale": {"domain": [-4.6, 106.7], "nice": false, "zero": false}, "axis": {"title": "NH₃ Mass Concentration [µg m⁻³]", "values": [0, 20, 40, 60, 80, 100], "tickCount": 12, "labelOverlap": false}},
       "color": {"datum": "LML Observations", "scale": {"domain": ["LML Observations", "Base simulation", "Optimized simulation"], "range": ["#000000", "#ff0000", "#0000ff"]}, "legend": {"orient": "top-right", "offset": 2.5}}
     }},
    {"mark": {"type": "line", "strokeWidth": 1, "opacity": 0.45, "point": {"filled": true, "size": 2.5}},
     "encoding": {"y": {"field": "b", "type": "quantitative"}, "color": {"datum": "Base simulation"}}},
    {"mark": {"type": "line", "strokeWidth": 1, "opacity": 0.6, "point": {"filled": true, "size": 2.5}},
     "encoding": {"y": {"field": "p", "type": "quantitative"}, "color": {"datum": "Optimized simulation"}}}
  ]
},
{
  "width": 453, "height": 60,
  "encoding": {
    "x": {"field": "t", "type": "quantitative", "scale": {"domain": [2017.76, 2023.24], "nice": false, "zero": false},
          "axis": {"title": null, "values": [2018, 2019, 2020, 2021, 2022, 2023], "tickCount": 12, "format": "d", "grid": true, "gridDash": [1.5, 1.5], "gridColor": "#b0b0b0", "labelAngle": -45, "labelAlign": "right", "labelBaseline": "middle", "labelOffset": 5, "labelPadding": 4, "labelOverlap": false}}
  },
  "layer": [
    {"mark": {"type": "line", "strokeWidth": 1, "opacity": 0.7, "point": {"filled": true, "size": 2.5}},
     "encoding": {
       "y": {"field": "db", "type": "quantitative", "scale": {"domain": [-97, 89], "nice": false, "zero": false}, "axis": {"title": ["Difference (mod-obs)", "[µg m⁻³]"], "titleFontSize": 7, "titleLineHeight": 8.5, "values": [-50, 0, 50], "tickCount": 6, "labelOverlap": false, "grid": true, "gridDash": [1.5, 1.5], "gridColor": "#b0b0b0"}},
       "color": {"datum": "Mean difference = -3.10 µg m⁻³", "scale": {"domain": ["Mean difference = -3.10 µg m⁻³", "Mean difference = 0.20 µg m⁻³"], "range": ["#ff0000", "#0000ff"]}, "legend": {"orient": "bottom-right", "offset": 2.5}}
     }},
    {"mark": {"type": "line", "strokeWidth": 1, "opacity": 0.7, "point": {"filled": true, "size": 2.5}},
     "encoding": {"y": {"field": "dp", "type": "quantitative"}, "color": {"datum": "Mean difference = 0.20 µg m⁻³"}}}
  ]
}
]
}
